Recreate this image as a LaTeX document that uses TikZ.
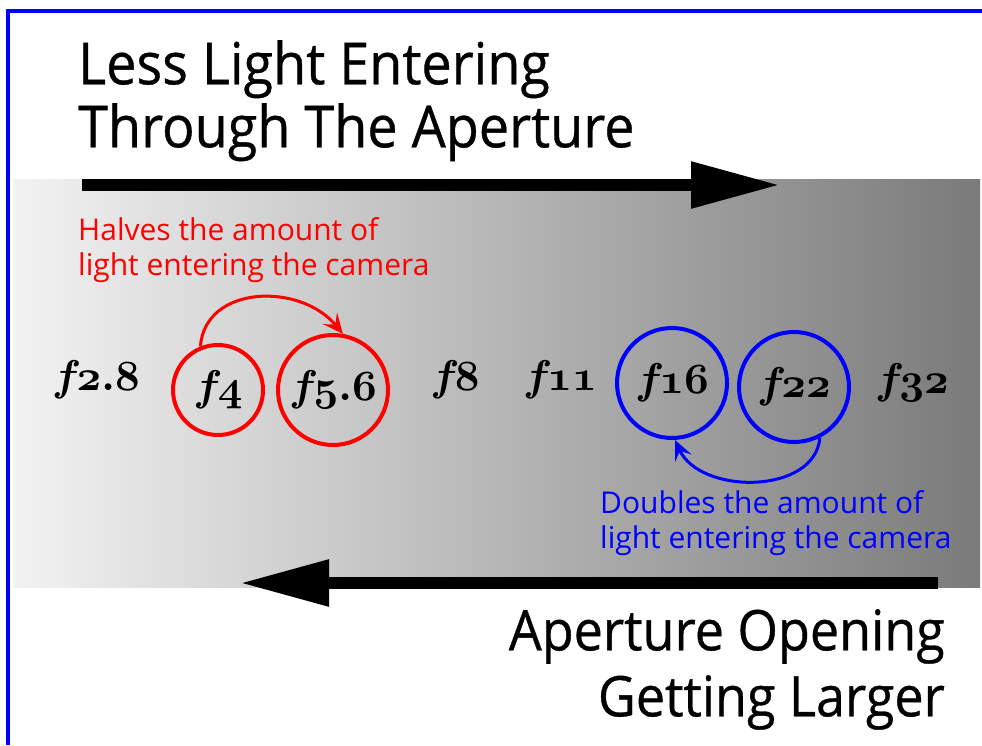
\RequirePackage{fix-cm}
\documentclass[tikz,border=0pt]{standalone}
\usepackage{fontspec}
\setmainfont{Open Sans}
\newfontfamily\headfont{Open Sans}[FakeStretch=0.93, FakeBold=0.6]
\usetikzlibrary{arrows.meta}

% math italic f with old-style digits (':' is the period slot in OML)
\newcommand{\fnumfont}{\fontencoding{OML}\fontfamily{cmm}\fontseries{b}\fontshape{it}\fontsize{43}{43}\selectfont}

\tikzset{
  fnum/.style={font=\fnumfont, inner sep=0pt},
  ring/.style={fnum, circle, line width=4pt, minimum size=#1},
  note/.style={font=\fontsize{30}{35}\selectfont, align=left, inner sep=0pt, anchor=north west},
  headline/.style={font=\headfont\fontsize{58}{63}\selectfont, inner sep=0pt},
  bigarrow/.style={line width=12pt, -{Triangle[length=89pt, width=44pt]}},
  curlyarrow/.style={line width=3pt, -{Stealth[length=20pt, width=18pt, inset=8pt]}},
}

\begin{document}
\begin{tikzpicture}[x=1pt, y=-1pt]
    \useasboundingbox (0,0) rectangle (982,745);

    % background band and frame
    \shade[left color=black!5, right color=black!52] (13,179) rectangle (980,587);
    \draw[blue, line width=4.5pt] (8,745) -- (8,11) -- (982,11);

    % headings
    \node (lessLight) [headline, align=left, anchor=north west] at (78,40) {Less Light Entering\\Through The Aperture};
    \node (opening) [headline, font=\headfont\fontsize{56}{66}\selectfont, align=right, anchor=north east] at (945,609) {Aperture Opening\\Getting Larger};

    % big arrows
    \coordinate (topStart) at (82,185);
    \coordinate (topTip) at (780,185);
    \coordinate (botStart) at (938,583);
    \coordinate (botTip) at (240,583);
    \draw[bigarrow] (topStart) -- (topTip);
    \draw[bigarrow] (botStart) -- (botTip);

    % f-numbers
    \node (f28) [fnum, anchor=base] at (96,390) {f2:8};
    \node (f4)  [ring=90pt, draw=red] at (218,390) {f4};
    \node (f56) [ring=110pt, draw=red] at (333,390) {f5:6};
    \node (f8)  [fnum, anchor=base] at (455,390) {f8};
    \node (f11) [fnum, anchor=base] at (560,390) {f11};
    \node (f16) [ring=110pt, draw=blue] at (672,383) {f16};
    \node (f22) [ring=110pt, draw=blue] at (794,387) {f22};
    \node (f32) [fnum, anchor=base] at (912,393) {f32};

    % notes
    \node (halves) [note, text=red] at (78,217) {Halves the amount of\\light entering the camera};
    \node (doubles) [note, text=blue] at (600,490) {Doubles the amount of\\light entering the camera};

    \draw[curlyarrow, red] (f4.112) .. controls (205,285) and (300,282) .. (f56.80);
    \draw[curlyarrow, blue] (f22.-63) .. controls (815,495) and (700,495) .. (f16.-87);
\end{tikzpicture}
\end{document}
